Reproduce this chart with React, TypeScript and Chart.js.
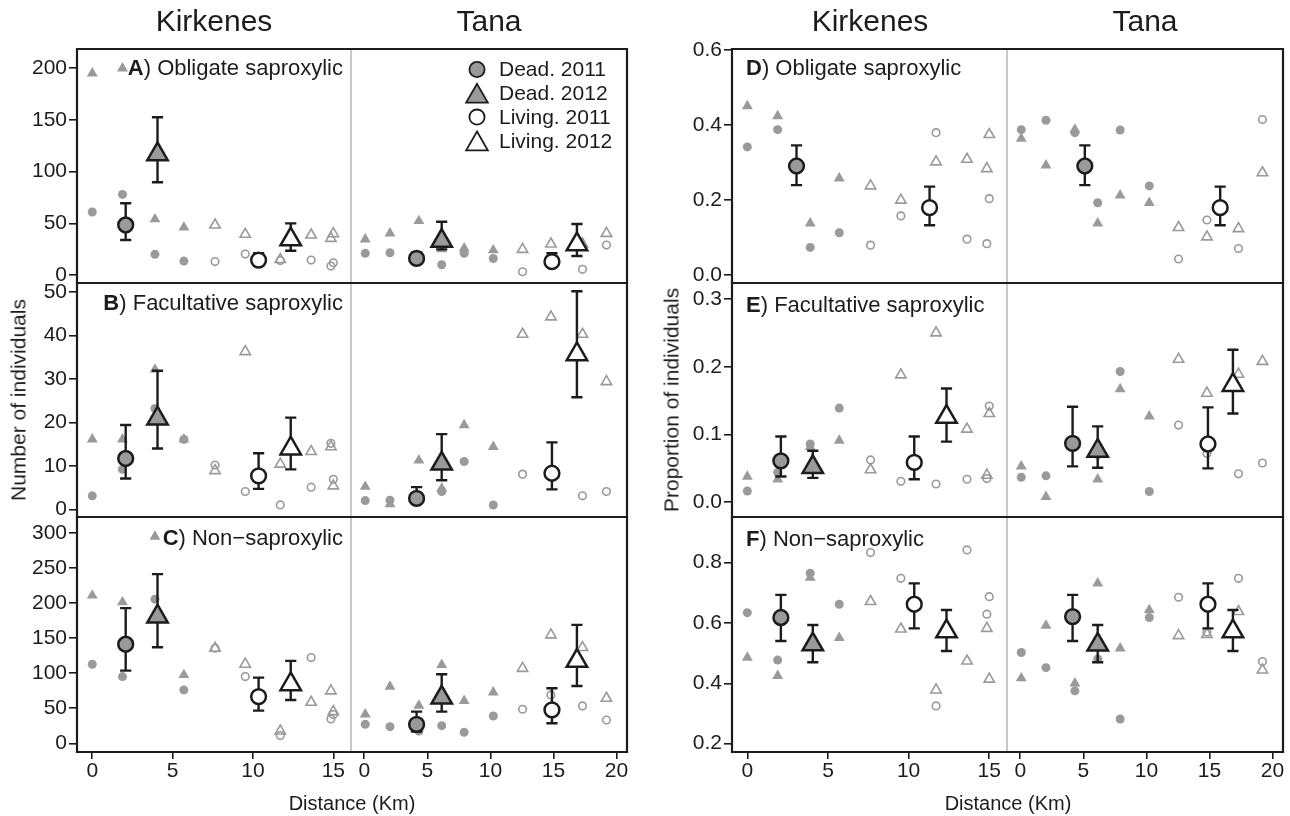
import React, { useEffect, useRef } from "react";
import { Chart, registerables } from "chart.js";

Chart.register(...registerables);

const FONT = '"Liberation Sans", Arial, Helvetica, sans-serif';
const INK = "#1c1c1c";
const GREY = "#9a9a9a";
const DIVIDER = "#c2c2c2";

// ---------- site distances (km) ----------
const kirkDeadKm = [0, 1.88, 3.9, 5.7];
const kirkLiveKm = [7.64, 9.52, 11.7, 13.62, 14.85, 15.0];
const tanaDeadKm = [0.08, 2.04, 4.33, 6.14, 7.92, 10.23];
const tanaLiveKm = [12.55, 14.8, 17.3, 19.2];

// positions of the model means
const kirkMeanKm = [2.08, 4.06, 10.35, 12.35];
const tanaMeanKm = [4.15, 6.14, 14.88, 16.86];
const kirkPooledKm = [3.05, 11.3];
const tanaPooledKm = [5.12, 15.85];

// ---------- tick labels ----------
const kirkTicksKm = [0, 5, 10, 15];
const tanaTicksKm = [0, 5, 10, 15, 20];
const ticksA = [0, 50, 100, 150, 200];
const ticksB = [0, 10, 20, 30, 40, 50];
const ticksC = [0, 50, 100, 150, 200, 250, 300];
const ticksD = [0, 0.2, 0.4, 0.6];
const ticksE = [0, 0.1, 0.2, 0.3];
const ticksF = [0.2, 0.4, 0.6, 0.8];

const legendLabels = ["Dead. 2011", "Dead. 2012", "Living. 2011", "Living. 2012"];

// ---------- A) Obligate saproxylic (number) ----------
const A_K_dead11 = [61, 78, 20, 13.5];
const A_K_dead12 = [195, 200, 54, 46];
const A_K_live11 = [13, 20.3, 14, 14.5, 8.7, 11.9];
const A_K_live12 = [48.4, 39.4, 15, 38.7, 35.5, 40];
const A_K_mean = [48.4, 116.8, 14.5, 34.5];
const A_K_lo = [33.9, 89.7, 10, 23.5];
const A_K_hi = [69.4, 152.6, 21, 50];

const A_T_dead11 = [21, 21.6, 15, 10, 21, 16];
const A_T_dead12 = [34.5, 40.3, 52.3, 25, 25.8, 24];
const A_T_live11 = [3.2, 12, 5.5, 29];
const A_T_live12 = [24.8, 30, 30, 40.3];
const A_T_mean = [16.1, 33, 12.9, 29.7];
const A_T_lo = [11, 24.8, 9, 18.4];
const A_T_hi = [21.9, 51.6, 21, 49.4];

// ---------- B) Facultative saproxylic (number) ----------
const B_K_dead11 = [3.1, 9.2, 23.2, 16.1];
const B_K_dead12 = [16.1, 16.1, 32.2, 16.1];
const B_K_live11 = [10.2, 4.1, 1, 5.1, 15.2, 6.9];
const B_K_live12 = [8.9, 36.3, 10.4, 13.3, 14.4, 5.4];
const B_K_mean = [11.7, 20.9, 7.7, 14];
const B_K_lo = [7.1, 14, 4.7, 9.2];
const B_K_hi = [19.4, 31.9, 12.9, 21.1];

const B_T_dead11 = [2, 2.1, 2.5, 4.1, 11, 1];
const B_T_dead12 = [5.2, 1.2, 11.3, 4.8, 19.4, 14.4];
const B_T_live11 = [8.1, 8, 3.1, 4.1];
const B_T_live12 = [40.3, 44.3, 40.3, 29.4];
const B_T_mean = [2.5, 10.5, 8.3, 35.7];
const B_T_lo = [1.8, 6.7, 4.6, 25.8];
const B_T_hi = [5.1, 17.3, 15.4, 50.2];

// ---------- C) Non-saproxylic (number) ----------
const C_K_dead11 = [112.9, 95.2, 205.7, 76.2];
const C_K_dead12 = [211, 201.4, 295, 97.6];
const C_K_live11 = [135.7, 95.2, 11, 122.4, 34.8, 41];
const C_K_live12 = [135.7, 112.9, 17.6, 58.6, 74.8, 45.2];
const C_K_mean = [141.4, 181, 66.7, 84.3];
const C_K_lo = [103.8, 137.1, 46.7, 61.9];
const C_K_hi = [192.9, 241.4, 93.8, 117.6];

const C_T_dead11 = [27.1, 23.8, 17.6, 25.2, 15.7, 39];
const C_T_dead12 = [41.4, 81, 53.8, 111.9, 60.5, 72.9];
const C_T_live11 = [48.6, 69, 53.3, 33.3];
const C_T_live12 = [107, 154.8, 136.7, 64.3];
const C_T_mean = [27.1, 65.2, 47.6, 117.6];
const C_T_lo = [16.7, 45.2, 28.6, 81.9];
const C_T_hi = [45.2, 98.6, 78.6, 169];

// ---------- D) Obligate saproxylic (proportion) ----------
const D_K_dead11 = [0.342, 0.388, 0.074, 0.113];
const D_K_dead12 = [0.451, 0.424, 0.138, 0.258];
const D_K_live11 = [0.08, 0.158, 0.38, 0.096, 0.084, 0.204];
const D_K_live12 = [0.238, 0.2, 0.302, 0.309, 0.284, 0.375];
const D_K_mean = [0.291, 0.18];
const D_K_lo = [0.24, 0.133];
const D_K_hi = [0.346, 0.236];

const D_T_dead11 = [0.388, 0.413, 0.38, 0.193, 0.387, 0.238];
const D_T_dead12 = [0.364, 0.293, 0.388, 0.138, 0.213, 0.193];
const D_T_live11 = [0.043, 0.147, 0.071, 0.415];
const D_T_live12 = [0.127, 0.102, 0.124, 0.273];
const D_T_mean = [0.291, 0.18];
const D_T_lo = [0.24, 0.133];
const D_T_hi = [0.346, 0.236];

// ---------- E) Facultative saproxylic (proportion) ----------
const E_K_dead11 = [0.0167, 0.044, 0.086, 0.139];
const E_K_dead12 = [0.038, 0.034, 0.082, 0.091];
const E_K_live11 = [0.0625, 0.031, 0.027, 0.034, 0.035, 0.142];
const E_K_live12 = [0.048, 0.188, 0.25, 0.108, 0.04, 0.131];
const E_K_mean = [0.061, 0.052, 0.059, 0.126];
const E_K_lo = [0.038, 0.036, 0.034, 0.0895];
const E_K_hi = [0.097, 0.076, 0.097, 0.168];

const E_T_dead11 = [0.037, 0.039, 0.082, 0.07, 0.193, 0.016];
const E_T_dead12 = [0.053, 0.008, 0.09, 0.034, 0.167, 0.127];
const E_T_live11 = [0.114, 0.072, 0.042, 0.058];
const E_T_live12 = [0.211, 0.161, 0.189, 0.208];
const E_T_mean = [0.087, 0.076, 0.086, 0.173];
const E_T_lo = [0.053, 0.051, 0.05, 0.131];
const E_T_hi = [0.141, 0.112, 0.14, 0.225];

// ---------- F) Non-saproxylic (proportion) ----------
const F_K_dead11 = [0.634, 0.477, 0.765, 0.662];
const F_K_dead12 = [0.485, 0.425, 0.75, 0.551];
const F_K_live11 = [0.833, 0.748, 0.325, 0.842, 0.629, 0.687];
const F_K_live12 = [0.671, 0.58, 0.378, 0.474, 0.582, 0.414];
const F_K_mean = [0.618, 0.529, 0.662, 0.572];
const F_K_lo = [0.54, 0.47, 0.582, 0.507];
const F_K_hi = [0.693, 0.593, 0.731, 0.643];

const F_T_dead11 = [0.502, 0.452, 0.375, 0.481, 0.282, 0.618];
const F_T_dead12 = [0.417, 0.591, 0.4, 0.731, 0.516, 0.643];
const F_T_live11 = [0.685, 0.57, 0.748, 0.472];
const F_T_live12 = [0.558, 0.562, 0.638, 0.444];
const F_T_mean = [0.621, 0.528, 0.662, 0.572];
const F_T_lo = [0.54, 0.47, 0.582, 0.507];
const F_T_hi = [0.693, 0.593, 0.731, 0.643];

const fourKinds = ["d11", "d12", "l11", "l12"];
const pooledKinds = ["d11", "l11"];

// ---------- layout (pixels) ----------
const COLS = { LK: [77, 351], LT: [351, 627], RK: [732, 1007], RT: [1007, 1283] };
const ROWS = [[49, 283], [283, 517], [517, 752]];
const X_RANGE = { K: [-0.95, 16.1], T: [-1.05, 20.83] };
const Y_AXIS_W = 70;
const X_AXIS_H = 40;

type Spec = {
  col: number[]; row: number[]; region: "K" | "T";
  yRange: number[]; yTicks: number[]; dec: number;
  showY: boolean; showX: boolean;
  d11: number[]; d12: number[]; l11: number[]; l12: number[];
  mx: number[]; my: number[]; lo: number[]; hi: number[]; kinds: string[];
  legend?: boolean;
};

function spec(col: number[], rowIdx: number, region: "K" | "T", yRange: number[], yTicks: number[], dec: number,
  d11: number[], d12: number[], l11: number[], l12: number[], mx: number[], my: number[], lo: number[], hi: number[],
  kinds: string[], legend = false): Spec {
  return {
    col, row: ROWS[rowIdx], region, yRange, yTicks, dec,
    showY: region === "K", showX: rowIdx === 2,
    d11, d12, l11, l12, mx, my, lo, hi, kinds, legend,
  };
}

const CELLS: Spec[] = [
  spec(COLS.LK, 0, "K", [-7.7, 218.6], ticksA, 0, A_K_dead11, A_K_dead12, A_K_live11, A_K_live12, kirkMeanKm, A_K_mean, A_K_lo, A_K_hi, fourKinds),
  spec(COLS.LT, 0, "T", [-7.7, 218.6], ticksA, 0, A_T_dead11, A_T_dead12, A_T_live11, A_T_live12, tanaMeanKm, A_T_mean, A_T_lo, A_T_hi, fourKinds, true),
  spec(COLS.LK, 1, "K", [-1.77, 52.1], ticksB, 0, B_K_dead11, B_K_dead12, B_K_live11, B_K_live12, kirkMeanKm, B_K_mean, B_K_lo, B_K_hi, fourKinds),
  spec(COLS.LT, 1, "T", [-1.77, 52.1], ticksB, 0, B_T_dead11, B_T_dead12, B_T_live11, B_T_live12, tanaMeanKm, B_T_mean, B_T_lo, B_T_hi, fourKinds),
  spec(COLS.LK, 2, "K", [-12.4, 323], ticksC, 0, C_K_dead11, C_K_dead12, C_K_live11, C_K_live12, kirkMeanKm, C_K_mean, C_K_lo, C_K_hi, fourKinds),
  spec(COLS.LT, 2, "T", [-12.4, 323], ticksC, 0, C_T_dead11, C_T_dead12, C_T_live11, C_T_live12, tanaMeanKm, C_T_mean, C_T_lo, C_T_hi, fourKinds),
  spec(COLS.RK, 0, "K", [-0.021, 0.603], ticksD, 1, D_K_dead11, D_K_dead12, D_K_live11, D_K_live12, kirkPooledKm, D_K_mean, D_K_lo, D_K_hi, pooledKinds),
  spec(COLS.RT, 0, "T", [-0.021, 0.603], ticksD, 1, D_T_dead11, D_T_dead12, D_T_live11, D_T_live12, tanaPooledKm, D_T_mean, D_T_lo, D_T_hi, pooledKinds),
  spec(COLS.RK, 1, "K", [-0.0217, 0.3236], ticksE, 1, E_K_dead11, E_K_dead12, E_K_live11, E_K_live12, kirkMeanKm, E_K_mean, E_K_lo, E_K_hi, fourKinds),
  spec(COLS.RT, 1, "T", [-0.0217, 0.3236], ticksE, 1, E_T_dead11, E_T_dead12, E_T_live11, E_T_live12, tanaMeanKm, E_T_mean, E_T_lo, E_T_hi, fourKinds),
  spec(COLS.RK, 2, "K", [0.1725, 0.951], ticksF, 1, F_K_dead11, F_K_dead12, F_K_live11, F_K_live12, kirkMeanKm, F_K_mean, F_K_lo, F_K_hi, fourKinds),
  spec(COLS.RT, 2, "T", [0.1725, 0.951], ticksF, 1, F_T_dead11, F_T_dead12, F_T_live11, F_T_live12, tanaMeanKm, F_T_mean, F_T_lo, F_T_hi, fourKinds),
];

function pts(xs: number[], ys: number[]) {
  return ys.map((y, i) => ({ x: xs[i], y }));
}

const errorBarPlugin = {
  id: "errorBars",
  beforeDatasetDraw(chart: any, args: any) {
    const ds: any = chart.data.datasets[args.index];
    if (!ds.errLo) return;
    const ctx = chart.ctx;
    const xs = chart.scales.x;
    const ys = chart.scales.y;
    ctx.save();
    ctx.strokeStyle = INK;
    ctx.lineWidth = 2.4;
    ctx.lineCap = "butt";
    ds.data.forEach((p: any, i: number) => {
      const px = xs.getPixelForValue(p.x);
      const y1 = ys.getPixelForValue(ds.errLo[i]);
      const y2 = ys.getPixelForValue(ds.errHi[i]);
      const cap = 5.6;
      ctx.beginPath();
      ctx.moveTo(px, y1);
      ctx.lineTo(px, y2);
      ctx.moveTo(px - cap, y1);
      ctx.lineTo(px + cap, y1);
      ctx.moveTo(px - cap, y2);
      ctx.lineTo(px + cap, y2);
      ctx.stroke();
    });
    ctx.restore();
  },
};

function framePlugin(region: "K" | "T") {
  return {
    id: "frame",
    afterDraw(chart: any) {
      const ctx = chart.ctx;
      const a = chart.chartArea;
      ctx.save();
      if (region === "K") {
        ctx.strokeStyle = DIVIDER;
        ctx.lineWidth = 1.8;
        ctx.beginPath();
        ctx.moveTo(a.right, a.top);
        ctx.lineTo(a.right, a.bottom);
        ctx.stroke();
      }
      ctx.strokeStyle = INK;
      ctx.lineWidth = 2.2;
      ctx.lineCap = "square";
      ctx.beginPath();
      ctx.moveTo(a.left, a.top);
      ctx.lineTo(a.right, a.top);
      ctx.moveTo(a.left, a.bottom);
      ctx.lineTo(a.right, a.bottom);
      if (region === "K") {
        ctx.moveTo(a.left, a.top);
        ctx.lineTo(a.left, a.bottom);
      } else {
        ctx.moveTo(a.right, a.top);
        ctx.lineTo(a.right, a.bottom);
      }
      ctx.stroke();
      ctx.restore();
    },
  };
}

const legendPlugin = {
  id: "legendBox",
  afterDraw(chart: any) {
    const ctx = chart.ctx;
    const a = chart.chartArea;
    const sx = a.right - 150;
    const y0 = a.top + 20.5;
    legendLabels.forEach((label, i) => {
      const y = y0 + i * 23.8;
      const dead = i < 2;
      const tri = i % 2 === 1;
      ctx.save();
      ctx.fillStyle = dead ? GREY : "#ffffff";
      ctx.strokeStyle = INK;
      ctx.lineWidth = 1.8;
      ctx.beginPath();
      if (tri) {
        const r = 12.5;
        ctx.moveTo(sx, y - r * 0.75);
        ctx.lineTo(sx + r * 0.866, y + r * 0.75);
        ctx.lineTo(sx - r * 0.866, y + r * 0.75);
        ctx.closePath();
      } else {
        ctx.arc(sx, y, 7.6, 0, Math.PI * 2);
      }
      ctx.fill();
      ctx.stroke();
      ctx.fillStyle = INK;
      ctx.font = `21px ${FONT}`;
      ctx.textBaseline = "middle";
      ctx.textAlign = "left";
      ctx.fillText(label, sx + 22, y + 1);
      ctx.restore();
    });
  },
};

function zeroPadding(sc: any) {
  sc.paddingLeft = 0;
  sc.paddingRight = 0;
  sc.paddingTop = 0;
  sc.paddingBottom = 0;
}

function buildChart(canvas: HTMLCanvasElement, s: Spec) {
  const deadX = s.region === "K" ? kirkDeadKm : tanaDeadKm;
  const liveX = s.region === "K" ? kirkLiveKm : tanaLiveKm;
  const xTicks = s.region === "K" ? kirkTicksKm : tanaTicksKm;
  const xr = X_RANGE[s.region];
  const [left, right] = s.col;
  const [top, bottom] = s.row;

  const datasets: any[] = [
    {
      data: pts(s.mx, s.my), errLo: s.lo, errHi: s.hi, order: 0,
      pointStyle: s.kinds.map((k) => (k.endsWith("12") ? "triangle" : "circle")),
      pointRadius: s.kinds.map((k) => (k.endsWith("12") ? 11.8 : 7.4)),
      pointBackgroundColor: s.kinds.map((k) => (k.startsWith("d") ? GREY : "#ffffff")),
      pointBorderColor: INK, pointBorderWidth: 2.5,
    },
    {
      data: pts(liveX, s.l12), order: 1, pointStyle: "triangle", pointRadius: 6,
      pointBackgroundColor: "rgba(0,0,0,0)", pointBorderColor: GREY, pointBorderWidth: 1.6,
    },
    {
      data: pts(liveX, s.l11), order: 2, pointStyle: "circle", pointRadius: 3.8,
      pointBackgroundColor: "rgba(0,0,0,0)", pointBorderColor: GREY, pointBorderWidth: 1.6,
    },
    {
      data: pts(deadX, s.d12), order: 3, pointStyle: "triangle", pointRadius: 6.3,
      pointBackgroundColor: GREY, pointBorderColor: GREY, pointBorderWidth: 0,
    },
    {
      data: pts(deadX, s.d11), order: 4, pointStyle: "circle", pointRadius: 4.5,
      pointBackgroundColor: GREY, pointBorderColor: GREY, pointBorderWidth: 0,
    },
  ];

  const tickFont = { family: FONT, size: 21 };
  const plugins: any[] = [errorBarPlugin, framePlugin(s.region)];
  if (s.legend) plugins.push(legendPlugin);

  return new Chart(canvas, {
    type: "scatter",
    data: { datasets },
    options: {
      responsive: false,
      animation: false,
      devicePixelRatio: 1,
      events: [],
      layout: {
        autoPadding: false,
        padding: {
          left: left - (s.showY ? Y_AXIS_W : 0),
          right: 1290 - right,
          top,
          bottom: 816 - bottom - (s.showX ? X_AXIS_H : 0),
        },
      },
      plugins: { legend: { display: false }, tooltip: { enabled: false }, title: { display: false } },
      scales: {
        x: {
          type: "linear",
          min: xr[0],
          max: xr[1],
          display: s.showX,
          afterBuildTicks: (sc: any) => { sc.ticks = xTicks.map((v) => ({ value: v })); },
          afterFit: (sc: any) => { sc.height = s.showX ? X_AXIS_H : 0; zeroPadding(sc); },
          border: { display: false },
          grid: { drawOnChartArea: false, drawTicks: true, tickLength: 7, tickColor: INK, tickWidth: 1.6, color: INK, lineWidth: 1.6 },
          ticks: { font: tickFont, color: INK, padding: 0, maxRotation: 0, autoSkip: false, callback: (v: any) => String(v) },
        },
        y: {
          type: "linear",
          min: s.yRange[0],
          max: s.yRange[1],
          display: s.showY,
          afterBuildTicks: (sc: any) => { sc.ticks = s.yTicks.map((v) => ({ value: v })); },
          afterFit: (sc: any) => { sc.width = s.showY ? Y_AXIS_W : 0; zeroPadding(sc); },
          border: { display: false },
          grid: { drawOnChartArea: false, drawTicks: true, tickLength: 8, tickColor: INK, tickWidth: 1.6, color: INK, lineWidth: 1.6 },
          ticks: {
            font: tickFont, color: INK, padding: 2, autoSkip: false,
            callback: (v: any) => (s.dec ? Number(v).toFixed(s.dec) : String(v)),
          },
        },
      },
    } as any,
    plugins,
  });
}

type TxtProps = { x: number; y: number; size: number; anchor?: "c" | "l" | "r"; children: React.ReactNode };
function Txt({ x, y, size, anchor = "c", children }: TxtProps) {
  const tx = anchor === "c" ? "-50%" : anchor === "r" ? "-100%" : "0";
  return (
    <div
      style={{
        position: "absolute", left: x, top: y, fontSize: size, lineHeight: 1, whiteSpace: "nowrap",
        transform: `translate(${tx}, -50%)`,
      }}
    >
      {children}
    </div>
  );
}

function RotTxt({ x, y, size, children }: { x: number; y: number; size: number; children: React.ReactNode }) {
  return (
    <div style={{ position: "absolute", left: x, top: y, width: 0, height: 0 }}>
      <div style={{ position: "absolute", left: 0, top: 0, fontSize: size, lineHeight: 1, whiteSpace: "nowrap", transform: "translate(-50%, -50%) rotate(-90deg)" }}>
        {children}
      </div>
    </div>
  );
}

export default function App() {
  const refs = useRef<(HTMLCanvasElement | null)[]>([]);
  useEffect(() => {
    const charts = CELLS.map((s, i) => buildChart(refs.current[i] as HTMLCanvasElement, s));
    return () => charts.forEach((c) => c.destroy());
  }, []);

  return (
    <div style={{ position: "absolute", left: 0, top: 0, width: 1290, height: 816, background: "#ffffff", overflow: "hidden", fontFamily: FONT, color: INK }}>
      {CELLS.map((_, i) => (
        <canvas key={i} ref={(el) => { refs.current[i] = el; }} width={1290} height={816} style={{ position: "absolute", left: 0, top: 0, display: "block" }} />
      ))}
      <Txt x={214} y={21} size={30}>Kirkenes</Txt>
      <Txt x={489} y={21} size={30}>Tana</Txt>
      <Txt x={870} y={21} size={30}>Kirkenes</Txt>
      <Txt x={1145} y={21} size={30}>Tana</Txt>

      <Txt x={343} y={68} size={22} anchor="r"><b>A</b>) Obligate saproxylic</Txt>
      <Txt x={343} y={303} size={22} anchor="r"><b>B</b>) Facultative saproxylic</Txt>
      <Txt x={343} y={538} size={22} anchor="r"><b>C</b>) Non−saproxylic</Txt>
      <Txt x={746} y={68} size={22} anchor="l"><b>D</b>) Obligate saproxylic</Txt>
      <Txt x={746} y={305} size={22} anchor="l"><b>E</b>) Facultative saproxylic</Txt>
      <Txt x={746} y={539} size={22} anchor="l"><b>F</b>) Non−saproxylic</Txt>

      <RotTxt x={18} y={400} size={21}>Number of individuals</RotTxt>
      <RotTxt x={671} y={400} size={21}>Proportion of individuals</RotTxt>
      <Txt x={352} y={803} size={20}>Distance (Km)</Txt>
      <Txt x={1008} y={803} size={20}>Distance (Km)</Txt>
    </div>
  );
}
